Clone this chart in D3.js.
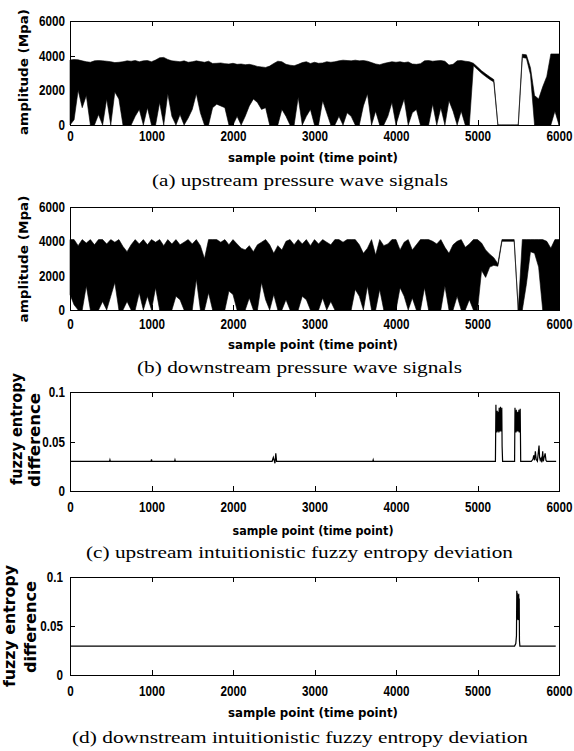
<!DOCTYPE html>
<html>
<head>
<meta charset="utf-8">
<script src="https://cdn.jsdelivr.net/npm/d3@7"></script>
<style>
  body {margin: 0; background: #fff;}
  svg {display: block;}
  .axis text {font-family: "Liberation Sans Narrow", "Liberation Sans", Arial, sans-serif; font-weight: bold; font-size: 14.5px; fill: #000;}
  .axis line {stroke: #000; shape-rendering: crispEdges;}
  .axis .domain {display: none;}
  .lab {font-family: "DejaVu Sans", sans-serif; font-weight: bold; fill: #000;}
  .cap {font-family: "Liberation Serif", "Times New Roman", serif; font-size: 17px; fill: #000;}
</style>
</head>
<body>
<script>
const xTicks = [0, 1000, 2000, 3000, 4000, 5000, 6000]
const ampTicks = [0, 2000, 4000, 6000]
const entTicks = [0, 0.05, 0.1]

// pressure signals: min / max envelope per 50-sample bin (0..6000)
const binStep = 50
const upHi = [
  3750, 3780, 3760, 3700, 3650, 3620, 3700, 3720, 3700, 3680,
  3650, 3600, 3620, 3650, 3700, 3680, 3720, 3650, 3700, 3720,
  3650, 3750, 3880, 3900, 3780, 3700, 3680, 3650, 3700, 3620,
  3650, 3700, 3660, 3620, 3680, 3550, 3560, 3580, 3540, 3520,
  3560, 3500, 3520, 3480, 3500, 3450, 3380, 3350, 3320, 3400,
  3550, 3680, 3650, 3500, 3450, 3420, 3500, 3600, 3650, 3550,
  3620, 3560, 3580, 3650, 3620, 3650, 3700, 3740, 3720, 3700,
  3740, 3700, 3720, 3680, 3600, 3520, 3480, 3550, 3600, 3650,
  3620, 3650, 3600, 3640, 3520, 3500, 3540, 3700, 3720, 3680,
  3700, 3720, 3680, 3460, 3500, 3700, 3720, 3680, 3650, 3560,
  3350, 3130, 2950, 2780, 2620, 0, 0, 0, 0, 0,
  0, 4080, 4050, 3300, 1700, 1500, 2200, 2800, 4100, 4100, 4100
]
const upLo = [
  0, 300, 2000, 1000, 1700, 0, 0, 600, 0, 1500,
  0, 1900, 1500, 0, 0, 0, 500, 900, 0, 1000,
  0, 0, 1300, 0, 1800, 500, 0, 600, 0, 400,
  900, 1800, 700, 0, 0, 1000, 1200, 1100, 1000, 0,
  0, 500, 0, 500, 1100, 1500, 1300, 900, 1000, 0,
  0, 0, 900, 500, 0, 0, 1600, 0, 500, 900,
  0, 0, 1400, 700, 0, 0, 500, 0, 700, 500,
  0, 0, 1100, 1800, 0, 800, 0, 0, 500, 1300,
  0, 800, 1500, 0, 700, 900, 0, 0, 0, 1200,
  0, 1000, 0, 1400, 800, 0, 800, 0, 0, 3420,
  3200, 2980, 2800, 2630, 2480, 0, 0, 0, 0, 0,
  0, 3900, 3850, 2900, 0, 0, 0, 0, 0, 800, 0
]
const downHi = [
  4100, 4100, 3750, 4100, 3900, 4100, 3800, 4100, 4100, 3850,
  4100, 3950, 4100, 3700, 3400, 3800, 4100, 3850, 4100, 3800,
  4100, 3950, 4100, 3750, 4100, 3850, 4100, 3800, 3950, 4100,
  3850, 4100, 3750, 3000, 4100, 4100, 4100, 3950, 4100, 3800,
  4100, 3850, 3600, 3500, 3750, 3400, 3800, 3950, 4100, 3800,
  3300, 3750, 3500, 4000, 4100, 3800, 4100, 3850, 4100, 3750,
  4100, 3850, 4100, 3950, 3800, 4100, 4100, 3950, 4100, 4100,
  4100, 3800, 3300, 3600, 4100, 3200, 4100, 3750, 3850, 4100,
  4100, 3500, 3950, 4100, 3500, 3800, 4100, 4100, 4100, 4000,
  3850, 4100, 3650, 3300, 3800, 4000, 4100, 3650, 3850, 4100,
  4100, 3900, 3500, 3250, 3050, 2700, 4100, 4100, 4100, 4100,
  0, 4100, 4100, 4100, 4100, 4100, 4100, 4000, 3600, 4100, 4100
]
const downLo = [
  900, 300, 0, 0, 1400, 0, 0, 0, 500, 0,
  800, 1600, 0, 0, 500, 0, 0, 1000, 0, 800,
  0, 1300, 0, 0, 0, 0, 800, 600, 0, 0,
  0, 1800, 0, 0, 1000, 0, 0, 0, 0, 1100,
  900, 0, 0, 0, 700, 0, 0, 1600, 600, 0,
  900, 0, 0, 600, 0, 0, 0, 800, 600, 0,
  0, 0, 700, 0, 500, 0, 0, 0, 0, 0,
  1200, 800, 0, 1400, 0, 0, 1200, 0, 0, 0,
  0, 1300, 800, 0, 700, 0, 0, 1300, 0, 0,
  0, 0, 1400, 0, 0, 800, 0, 0, 600, 0,
  0, 2300, 1900, 2500, 2600, 2550, 4000, 4000, 4000, 4000,
  0, 0, 1500, 3400, 3300, 2500, 0, 0, 0, 0, 0
]

// fuzzy entropy difference: sample point / value
const entUpX = [0, 485, 490, 495, 995, 1000, 1005, 1283, 1288, 1293,
  2480, 2495, 2505, 2515, 2525, 2535, 2550, 3715, 3720, 3725,
  5220, 5226, 5230, 5234, 5238, 5242, 5246, 5250, 5254, 5258, 5262, 5266, 5270, 5274, 5278,
  5282, 5286, 5290, 5294, 5298, 5302, 5308,
  5455, 5460, 5464, 5468, 5472, 5476, 5480, 5484, 5488, 5492, 5496, 5500, 5504, 5508,
  5512, 5516, 5520, 5524, 5530,
  5660, 5680, 5690, 5700, 5710, 5720, 5735, 5745, 5755, 5762, 5770, 5780, 5790, 5800,
  5808, 5815, 5830, 5840, 5850, 5965]
const entUpY = [0.030, 0.030, 0.0315, 0.030, 0.030, 0.032, 0.030, 0.030, 0.0315, 0.030,
  0.030, 0.034, 0.031, 0.028, 0.038, 0.030, 0.030, 0.030, 0.0315, 0.030,
  0.030, 0.087, 0.060, 0.080, 0.059, 0.081, 0.060, 0.079, 0.061, 0.080, 0.059, 0.084, 0.060, 0.080, 0.060,
  0.085, 0.061, 0.080, 0.060, 0.084, 0.045, 0.030,
  0.030, 0.084, 0.060, 0.080, 0.059, 0.082, 0.060, 0.080, 0.061, 0.079, 0.060, 0.080, 0.060, 0.082,
  0.059, 0.080, 0.060, 0.083, 0.030,
  0.030, 0.032, 0.036, 0.031, 0.040, 0.032, 0.030, 0.038, 0.046, 0.034, 0.031, 0.033, 0.029, 0.040,
  0.030, 0.033, 0.038, 0.031, 0.030, 0.030]
const entDownX = [0, 5455, 5470, 5478, 5482, 5485, 5488, 5491, 5494, 5497, 5500, 5503, 5506, 5509, 5512, 5515, 5520, 5960]
const entDownY = [0.0295, 0.0295, 0.032, 0.040, 0.086, 0.058, 0.084, 0.057, 0.082, 0.056, 0.080, 0.058, 0.083, 0.056, 0.078, 0.035, 0.0295, 0.0295]

const svg = d3.select('body').append('svg').attr('width', 574).attr('height', 751)

const left = 70, right = 559

// squeeze tick labels to a narrow bold face
function narrowTicks(axisG) {
  axisG.selectAll('text')
    .attr('textLength', function () {
      const t = this.textContent
      const dots = t.split('.').length - 1
      return (t.length - dots) * 6.5 + dots * 3.2
    })
    .attr('lengthAdjust', 'spacingAndGlyphs')
}

function drawPanel(p) {
  const x = d3.scaleLinear().domain([0, 6000]).range([left, right])
  const y = d3.scaleLinear().domain(p.yDomain).range([p.bottom, p.top])
  const g = svg.append('g')

  if (p.hi) {
    const rows = d3.zip(p.lo, p.hi)
    const area = d3.area()
      .x((d, i) => x(i * binStep))
      .y0(d => y(d[0]))
      .y1(d => y(d[1]))
    g.append('path').datum(rows).attr('d', area)
      .attr('fill', '#000').attr('stroke', '#000').attr('stroke-width', 0.6)
  } else {
    const line = d3.line().x(d => x(d[0])).y(d => y(d[1]))
    g.append('path').datum(d3.zip(p.xs, p.ys)).attr('d', line)
      .attr('fill', 'none').attr('stroke', '#000').attr('stroke-width', 1.2)
  }

  // frame
  g.append('rect')
    .attr('x', left).attr('y', p.top)
    .attr('width', right - left).attr('height', p.bottom - p.top)
    .attr('fill', 'none').attr('stroke', '#000').attr('stroke-width', 1)
    .attr('shape-rendering', 'crispEdges')

  g.append('g').attr('class', 'axis').attr('transform', `translate(0,${p.bottom})`)
    .call(d3.axisBottom(x).tickValues(xTicks).tickSize(-5).tickSizeOuter(0)
      .tickPadding(p.xPad).tickFormat(d3.format('d')))
    .call(narrowTicks)
  g.append('g').attr('class', 'axis').attr('transform', `translate(0,${p.top})`)
    .call(d3.axisTop(x).tickValues(xTicks).tickSize(-5).tickSizeOuter(0).tickFormat(''))
  g.append('g').attr('class', 'axis').attr('transform', `translate(${left},0)`)
    .call(d3.axisLeft(y).tickValues(p.yTicks).tickSize(-5).tickSizeOuter(0)
      .tickPadding(p.yPad).tickFormat(d => String(d)))
    .call(narrowTicks)
  g.append('g').attr('class', 'axis').attr('transform', `translate(${right},0)`)
    .call(d3.axisRight(y).tickValues(p.yTicks).tickSize(-5).tickSizeOuter(0).tickFormat(''))

  p.yLabel.forEach(l => {
    g.append('text').attr('class', 'lab')
      .attr('transform', `translate(${l.x},${l.cy}) rotate(-90)`)
      .attr('text-anchor', 'middle').attr('dominant-baseline', 'central')
      .attr('font-size', l.size)
      .attr('textLength', l.len).attr('lengthAdjust', 'spacingAndGlyphs')
      .text(l.text)
  })

  g.append('text').attr('class', 'lab')
    .attr('x', 313).attr('y', p.xLabelY)
    .attr('text-anchor', 'middle').attr('font-size', 13)
    .attr('textLength', p.xLabelLen).attr('lengthAdjust', 'spacingAndGlyphs')
    .text('sample point (time point)')

  g.append('text').attr('class', 'cap')
    .attr('x', p.capX).attr('y', p.capY)
    .attr('textLength', p.capLen).attr('lengthAdjust', 'spacingAndGlyphs')
    .text(p.caption)
}

drawPanel({
  top: 21, bottom: 125, yDomain: [0, 6000], yTicks: ampTicks, xPad: 6, yPad: 5,
  lo: upLo, hi: upHi,
  yLabel: [{x: 23, cy: 72, text: 'amplitude (Mpa)', size: 13, len: 126}],
  xLabelY: 162, xLabelLen: 170,
  caption: '(a) upstream pressure wave signals', capX: 152, capY: 186, capLen: 296
})
drawPanel({
  top: 207, bottom: 310, yDomain: [0, 6000], yTicks: ampTicks, xPad: 9, yPad: 5,
  lo: downLo, hi: downHi,
  yLabel: [{x: 23, cy: 259, text: 'amplitude (Mpa)', size: 13, len: 127}],
  xLabelY: 349, xLabelLen: 170,
  caption: '(b) downstream pressure wave signals', capX: 137, capY: 373, capLen: 325
})
drawPanel({
  top: 392, bottom: 491, yDomain: [0, 0.1], yTicks: entTicks, xPad: 11, yPad: 5,
  xs: entUpX, ys: entUpY,
  yLabel: [{x: 17, cy: 429, text: 'fuzzy entropy', size: 15, len: 112},
           {x: 35, cy: 440, text: 'difference', size: 15, len: 94}],
  xLabelY: 535, xLabelLen: 161,
  caption: '(c) upstream intuitionistic fuzzy entropy deviation', capX: 86, capY: 558, capLen: 427
})
drawPanel({
  top: 577, bottom: 675, yDomain: [0, 0.1], yTicks: entTicks, xPad: 11, yPad: 7,
  xs: entDownX, ys: entDownY,
  yLabel: [{x: 10, cy: 626, text: 'fuzzy entropy', size: 15, len: 122},
           {x: 31, cy: 627, text: 'difference', size: 15, len: 92}],
  xLabelY: 717, xLabelLen: 170,
  caption: '(d) downstream intuitionistic fuzzy entropy deviation', capX: 72, capY: 743, capLen: 456
})
</script>
</body>
</html>
